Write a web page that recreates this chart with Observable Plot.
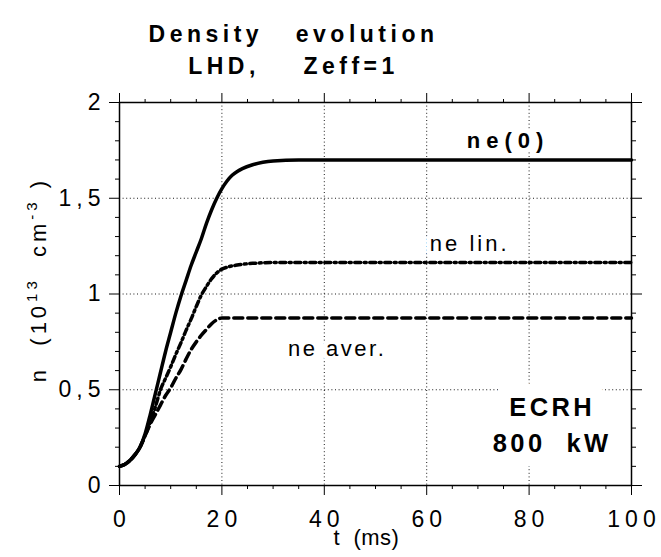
<!DOCTYPE html>
<html><head><meta charset="utf-8">
<script src="https://cdn.jsdelivr.net/npm/d3@7"></script>
<script src="https://cdn.jsdelivr.net/npm/@observablehq/plot@0.6"></script>
<style>
body{margin:0;background:#fff;}
#chart svg{display:block;}
#chart svg text{white-space:pre;}
g[aria-label="x-axis tick label"] text, g[aria-label="y-axis tick label"] text{letter-spacing:5px;}
</style></head><body><div id="chart"></div>
<script>
// time (ms)
const time = [0,1,2,3,4,5,6,7,8,9,10,11,12,13,14,15,16,17,18,19,20,21,22,23,24,26,28,30,35,40,50,60,70,80,90,100];
// ne(0)
const neCenter = [0.10,0.11,0.13,0.16,0.20,0.27,0.37,0.48,0.59,0.70,0.80,0.90,0.99,1.07,1.15,1.22,1.29,1.37,1.44,1.50,1.55,1.59,1.62,1.64,1.655,1.675,1.688,1.695,1.70,1.70,1.70,1.70,1.70,1.70,1.70,1.70];
// ne lin.
const neLin = [0.10,0.11,0.13,0.16,0.20,0.26,0.33,0.41,0.50,0.56,0.62,0.685,0.745,0.81,0.87,0.935,0.995,1.04,1.08,1.11,1.13,1.14,1.147,1.151,1.155,1.16,1.163,1.165,1.165,1.165,1.165,1.165,1.165,1.165,1.165,1.165];
// ne aver.
const neAver = [0.10,0.11,0.13,0.16,0.20,0.26,0.32,0.37,0.42,0.47,0.51,0.56,0.605,0.66,0.71,0.75,0.785,0.815,0.845,0.865,0.875,0.875,0.875,0.875,0.875,0.875,0.875,0.875,0.875,0.875,0.875,0.875,0.875,0.875,0.875,0.875];

const xTicks = [0,20,40,60,80,100];
const xMinor = [5,10,15,25,30,35,45,50,55,65,70,75,85,90,95];
const yTicks = [0,0.5,1,1.5,2];
const yTickLabels = ["0","0,5","1","1,5","2"];
const yMinor = [0.1,0.2,0.3,0.4,0.6,0.7,0.8,0.9,1.1,1.2,1.3,1.4,1.6,1.7,1.8,1.9];
const xGrid = [20,40,60,80];
const yGrid = [0.5,1,1.5];

const curveLabels = ["ne(0)","ne lin.","ne aver."];
const curveLabelT = [75.9,68.4,42.5];
const curveLabelN = [1.798,1.259,0.715];
const noteLines = ["ECRH","800  kW"];
const noteT = [84.5,84.5];
const noteN = [0.408,0.216];
const titleLines = ["Density   evolution","LHD,    Zeff=1"];
const xTitle = "t  (ms)";

const rows = time.map((t,i)=>({t, c:neCenter[i], l:neLin[i], a:neAver[i]}));
const labels = curveLabels.map((text,i)=>({text, t:curveLabelT[i], n:curveLabelN[i]}));
const notes = noteLines.map((text,i)=>({text, t:noteT[i], n:noteN[i]}));

const FONT = "'Liberation Sans', Arial, Helvetica, sans-serif";
const grid = {stroke:"black", strokeOpacity:0.9, strokeWidth:1, strokeDasharray:"1,2.6"};

const plot = Plot.plot({
  width:661, height:557,
  marginTop:102, marginBottom:72, marginLeft:119, marginRight:30,
  x:{domain:[0,100]},
  y:{domain:[0,2]},
  style:{fontFamily:FONT, background:"white", color:"black", overflow:"visible"},
  marks:[
    Plot.gridX(xGrid, grid),
    Plot.gridY(yGrid, grid),
    // white knock-outs behind labels
    Plot.text(labels, {x:"t", y:"n", text:"text", fontSize:22, fill:"white", stroke:"white", strokeWidth:10}),
    Plot.text(notes, {x:"t", y:"n", text:"text", fontSize:25.5, fontWeight:"bold", fill:"white", stroke:"white", strokeWidth:30}),
    // curves
    Plot.line(rows, {x:"t", y:"a", stroke:"black", strokeWidth:3.5, strokeDasharray:"9,5", curve:"monotone-x"}),
    Plot.line(rows, {x:"t", y:"l", stroke:"black", strokeWidth:3.5, strokeDasharray:"6,3.5,2,3.5", curve:"monotone-x"}),
    Plot.line(rows, {x:"t", y:"c", stroke:"black", strokeWidth:3.5, curve:"monotone-x"}),
    Plot.frame({stroke:"black", strokeWidth:1.5}),
    // ticks
    Plot.axisX(xTicks, {anchor:"bottom", tickSize:10, tickFormat:()=>"", label:null}),
    Plot.axisX(xMinor, {anchor:"bottom", tickSize:4, tickFormat:()=>"", label:null}),
    Plot.axisX(xTicks, {anchor:"top", tickSize:10, tickFormat:()=>"", label:null}),
    Plot.axisX(xMinor, {anchor:"top", tickSize:4, tickFormat:()=>"", label:null}),
    Plot.axisY(yTicks, {anchor:"left", tickSize:10, tickFormat:()=>"", label:null}),
    Plot.axisY(yMinor, {anchor:"left", tickSize:4, tickFormat:()=>"", label:null}),
    Plot.axisY(yTicks, {anchor:"right", tickSize:10, tickFormat:()=>"", label:null}),
    Plot.axisY(yMinor, {anchor:"right", tickSize:4, tickFormat:()=>"", label:null}),
    // tick labels
    Plot.axisX(xTicks, {anchor:"bottom", tickSize:0, tickPadding:25, fontSize:23, dx:2.5, tickFormat:d=>String(d), label:null}),
    Plot.axisY(yTicks, {anchor:"left", tickSize:0, tickPadding:14, fontSize:23, tickFormat:d=>yTickLabels[yTicks.indexOf(d)], label:null}),
    // labels
    Plot.text(labels.slice(0,1), {x:"t", y:"n", text:"text", fontSize:22, fontWeight:"bold", fill:"black"}),
    Plot.text(labels.slice(1), {x:"t", y:"n", text:"text", fontSize:22, fill:"black"}),
    Plot.text(notes, {x:"t", y:"n", text:"text", fontSize:25.5, fontWeight:"bold", fill:"black"}),
    // titles
    Plot.text([titleLines[0]], {frameAnchor:"top", textAnchor:"middle", dx:-82, dy:-77, fontSize:23, fontWeight:"bold"}),
    Plot.text([titleLines[1]], {frameAnchor:"top", textAnchor:"middle", dx:-82, dy:-45, fontSize:23, fontWeight:"bold"}),
    Plot.text([xTitle], {frameAnchor:"bottom", textAnchor:"middle", dx:-9, dy:59, fontSize:22}),
    Plot.text(["n"], {frameAnchor:"left", textAnchor:"middle", rotate:-90, dx:-80.5, dy:-14.5, fontSize:22})
  ]
});

const svg = d3.select(plot);
function spacing(txt, ls){
  svg.selectAll("text").filter(function(){ return this.textContent === txt; }).attr("letter-spacing", ls);
}
titleLines.forEach(t => spacing(t, 4.5));
spacing(curveLabels[0], 6);
spacing(curveLabels[1], 3);
spacing(curveLabels[2], 2.5);
noteLines.forEach(t => spacing(t, 3.4));
spacing(xTitle, 0.5);

// y label with superscripts
const yl = svg.selectAll("text").filter(function(){ return this.textContent === "n"; });
yl.attr("letter-spacing", 4).text(null);
yl.append("tspan").text("n  (10");
yl.append("tspan").attr("dy", -9).attr("font-size", 15).text("13");
yl.append("tspan").attr("dy", 9).text("  cm");
yl.append("tspan").attr("dy", -9).attr("font-size", 15).text("-3");
yl.append("tspan").attr("dy", 9).text(" )");

document.getElementById("chart").appendChild(plot);
</script></body></html>
